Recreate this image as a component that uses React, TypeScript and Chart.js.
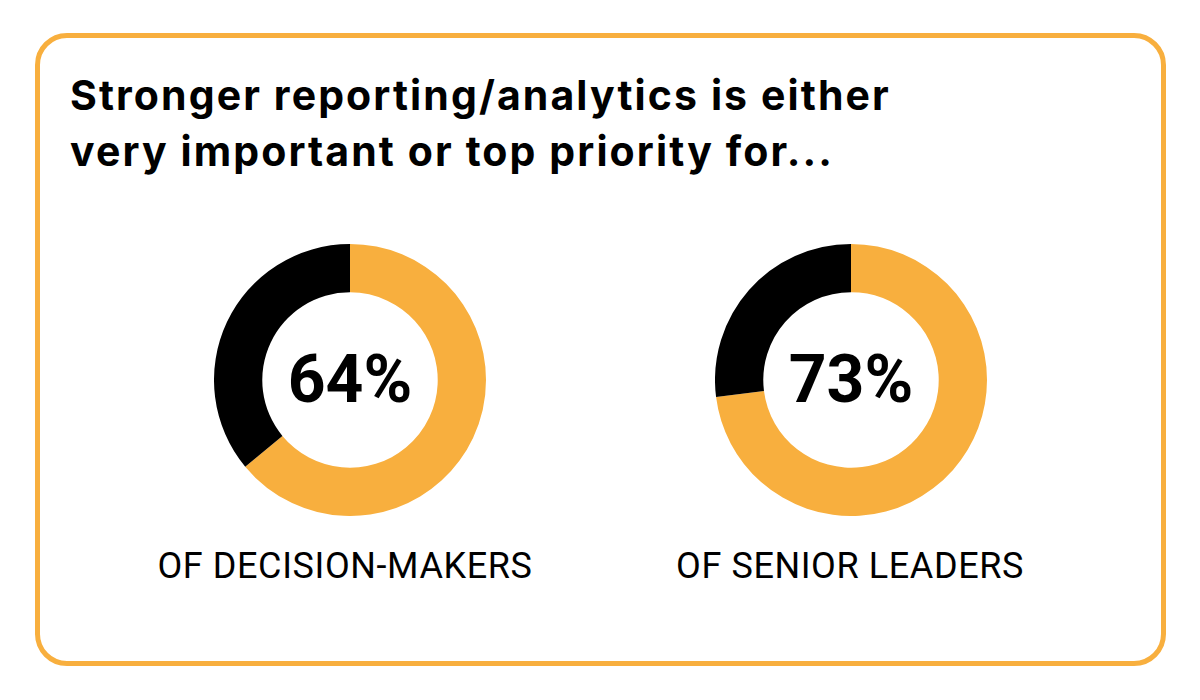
import React, { useEffect, useRef } from "react";
import { Chart, registerables } from "chart.js";

Chart.register(...registerables);

const TITLE_LINES = [
  "Stronger reporting/analytics is either",
  "very important or top priority for...",
];
const GROUPS = ["OF DECISION-MAKERS", "OF SENIOR LEADERS"];
const PRIORITY_PCT = [64, 73];
const SEGMENT_LABELS = ["Very important / top priority", "Other"];

const ORANGE = "#F8AF3E";
const BLACK = "#000000";

const centerTextPlugin = {
  id: "centerText",
  afterDraw(chart: any, _args: any, opts: any) {
    const meta = chart.getDatasetMeta(0);
    if (!meta || !meta.data.length) return;
    const arc = meta.data[0];
    const ctx = chart.ctx;
    ctx.save();
    ctx.fillStyle = "#000";
    ctx.font = `700 66px Roboto, "Noto Sans", sans-serif`;
    ctx.textAlign = "center";
    ctx.textBaseline = "alphabetic";
    ctx.fillText(opts.text, arc.x, arc.y + 22);
    ctx.restore();
  },
};

function Donut({ value, left }: { value: number; left: number }) {
  const ref = useRef<HTMLCanvasElement>(null);
  useEffect(() => {
    if (!ref.current) return;
    const chart = new Chart(ref.current, {
      type: "doughnut",
      data: {
        labels: SEGMENT_LABELS,
        datasets: [
          {
            data: [value, 100 - value],
            backgroundColor: [ORANGE, BLACK],
            borderWidth: 0,
          },
        ],
      },
      options: {
        responsive: false,
        animation: false,
        cutout: "64.5%",
        layout: { padding: 0 },
        plugins: {
          legend: { display: false },
          tooltip: { enabled: false },
          centerText: { text: `${value}%` },
        } as any,
      },
      plugins: [centerTextPlugin],
    });
    return () => chart.destroy();
  }, [value]);
  return (
    <canvas
      ref={ref}
      width={272}
      height={272}
      style={{ position: "absolute", left, top: 244, width: 272, height: 272 }}
    />
  );
}

export default function App() {
  useEffect(() => {
    document.body.style.margin = "0";
  }, []);
  const centers = [350, 851];
  const labelCenters = [345, 850];
  return (
    <div
      style={{
        position: "absolute",
        left: 0,
        top: 0,
        width: 1200,
        height: 700,
        background: "#fff",
        overflow: "hidden",
      }}
    >
      <div
        style={{
          position: "absolute",
          left: 35,
          top: 33,
          width: 1131,
          height: 633,
          boxSizing: "border-box",
          border: `5px solid ${ORANGE}`,
          borderRadius: 32,
        }}
      />
      <div
        style={{
          position: "absolute",
          left: 70,
          top: 67,
          fontFamily: 'Inter, "Noto Sans", sans-serif',
          fontWeight: 700,
          fontSize: 41,
          letterSpacing: "2.1px",
          lineHeight: "56px",
          color: "#000",
          whiteSpace: "nowrap",
        }}
      >
        {TITLE_LINES.map((l, i) => (
          <div key={i}>{l}</div>
        ))}
      </div>
      {PRIORITY_PCT.map((v, i) => (
        <Donut key={i} value={v} left={centers[i] - 136} />
      ))}
      {GROUPS.map((g, i) => (
        <div
          key={g}
          style={{
            position: "absolute",
            left: labelCenters[i] - 250,
            width: 500,
            top: 544,
            textAlign: "center",
            fontFamily: 'Roboto, "Noto Sans", sans-serif',
            fontWeight: 400,
            fontSize: 36,
            letterSpacing: "0.6px",
            lineHeight: "44px",
            color: "#000",
            whiteSpace: "nowrap",
          }}
        >
          {g}
        </div>
      ))}
    </div>
  );
}
